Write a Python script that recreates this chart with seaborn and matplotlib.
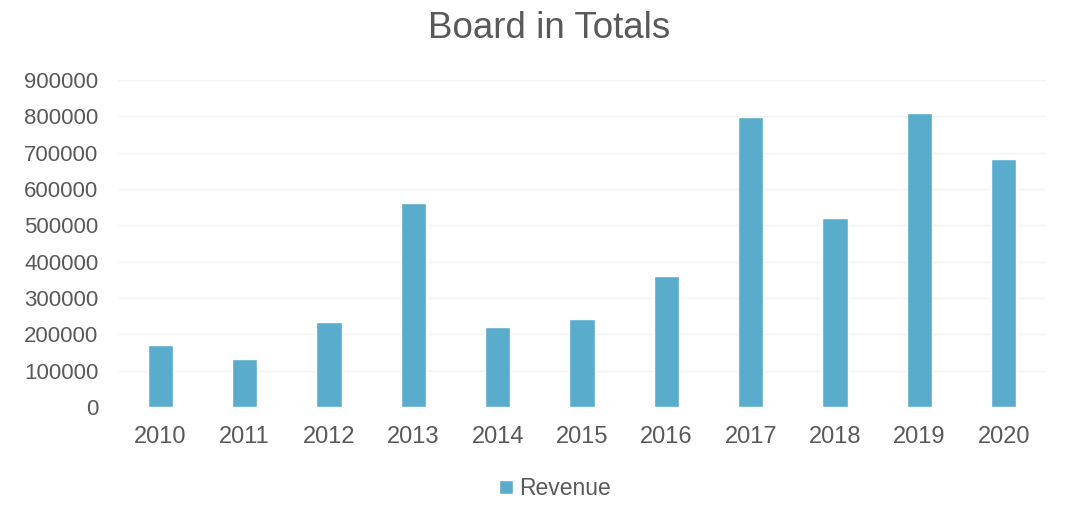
import pandas as pd
import seaborn as sns
import matplotlib.pyplot as plt

# data
years = ["2010", "2011", "2012", "2013", "2014", "2015", "2016", "2017", "2018", "2019", "2020"]
revenue = [170000, 131500, 234000, 561000, 220000, 243000, 361000, 797000, 521000, 808000, 682000]
y_ticks = [0, 100000, 200000, 300000, 400000, 500000, 600000, 700000, 800000, 900000]

df = pd.DataFrame({"Year": years, "Revenue": revenue})

sns.set_theme(style="white")
plt.rcParams['font.family'] = ['Liberation Sans', 'DejaVu Sans']
grey = "#595959"

fig = plt.figure(figsize=(10.81, 5.18), dpi=100)
ax = fig.add_axes([118 / 1081, 1 - 407 / 518, (1046 - 118) / 1081, (407 - 80) / 518])

sns.barplot(data=df, x="Year", y="Revenue", color="#5aaccd", width=0.3,
            saturation=1, label="Revenue", ax=ax, zorder=3)

ax.set_ylim(0, 900000)
ax.set_yticks(y_ticks)
ax.set_yticklabels([str(t) for t in y_ticks])
ax.yaxis.grid(True, color="#f4f4f4", linewidth=1, zorder=0)
ax.set_xlim(-0.5, len(years) - 0.5)
for s in ax.spines.values():
    s.set_visible(False)
ax.tick_params(axis="y", length=0, labelsize=16, labelcolor=grey, pad=14)
ax.tick_params(axis="x", length=0, labelsize=17, labelcolor=grey, pad=14)
ax.set_xlabel("")
ax.set_ylabel("")

fig.text(549 / 1081, 1 - 28 / 518, "Board in Totals", ha="center", va="center",
         fontsize=26.5, color=grey)

ax.legend(loc="center", bbox_to_anchor=((555 - 118) / (1046 - 118), -0.25), frameon=False,
          fontsize=16.5, labelcolor=grey, handlelength=0.6, handleheight=0.6,
          handletextpad=0.3)

fig.savefig("out.png", dpi=100)
